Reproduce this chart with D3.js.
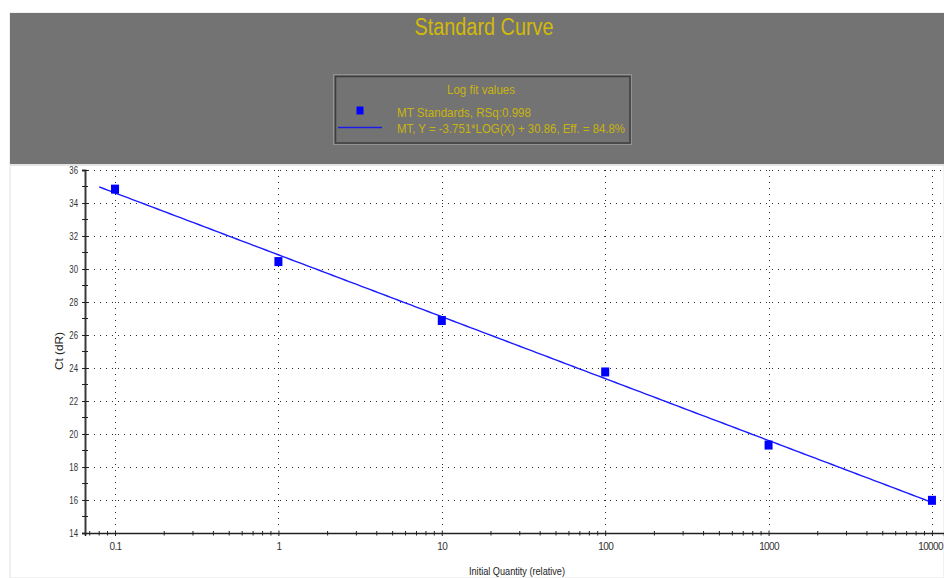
<!DOCTYPE html>
<html>
<head>
<meta charset="utf-8">
<script src="https://cdn.jsdelivr.net/npm/d3@7"></script>
<style>
  html, body { margin: 0; padding: 0; background: #ffffff; }
  svg { display: block; }
  text { font-family: "Liberation Sans", Arial, sans-serif; }
</style>
</head>
<body>
<svg id="chart" width="944" height="578"></svg>
<script>
// Standard curve: Ct against initial quantity (log scale) with its log fit
const quantities = [0.1, 1, 10, 100, 1000, 10000];
const ctValues = [34.84, 30.45, 26.88, 23.76, 19.33, 15.98];
const fitSlope = -3.751;
const fitIntercept = 30.86;
const fitSpan = [0.08, 10000];
const xTickValues = [0.1, 1, 10, 100, 1000, 10000];
const xTickLabels = ["0.1", "1", "10", "100", "1000", "10000"];
const yMajorTicks = [14, 16, 18, 20, 22, 24, 26, 28, 30, 32, 34, 36];
const yMinorTicks = [15, 17, 19, 21, 23, 25, 27, 29, 31, 33, 35];

const titleText = "Standard Curve";
const legendTitle = "Log fit values";
const legendPoints = "MT Standards, RSq:0.998";
const legendLine = "MT, Y = -3.751*LOG(X) + 30.86, Eff. = 84.8%";
const xTitle = "Initial Quantity (relative)";
const yTitle = "Ct (dR)";

const svg = d3.select("#chart");
const W = 944, H = 578;
const plot = { left: 85, right: 944, top: 170, bottom: 533 };

const x = d3.scaleLog().domain([0.0655, 11850]).range([plot.left, plot.right]);
const y = d3.scaleLinear().domain([14, 36]).range([plot.bottom, plot.top]);

// squeeze text horizontally to a narrower face
function condense(sel, factor) {
  sel.each(function () {
    const len = this.getComputedTextLength();
    d3.select(this).attr("textLength", len * factor).attr("lengthAdjust", "spacingAndGlyphs");
  });
}

// panel background
svg.append("rect").attr("x", 10).attr("y", 13).attr("width", W - 10).attr("height", H - 13)
  .attr("fill", "#ffffff").attr("stroke", "#e2e2e2").attr("stroke-width", 1);

// header band
svg.append("rect").attr("x", 10).attr("y", 13).attr("width", W - 10).attr("height", 151)
  .attr("fill", "#737373");
svg.append("line").attr("x1", 10).attr("x2", W).attr("y1", 165).attr("y2", 165)
  .attr("stroke", "#e4e4e4").attr("stroke-width", 2);

svg.append("text").attr("x", 484).attr("y", 35).attr("text-anchor", "middle")
  .attr("font-size", 23).attr("fill", "#d2ba08").text(titleText)
  .attr("textLength", 139).attr("lengthAdjust", "spacingAndGlyphs");

// legend box with bevelled edge
const lg = svg.append("g");
lg.append("rect").attr("x", 333.5).attr("y", 74.5).attr("width", 298).attr("height", 70)
  .attr("fill", "none").attr("stroke", "#939393").attr("stroke-width", 1);
lg.append("rect").attr("x", 335.5).attr("y", 76.5).attr("width", 294.5).attr("height", 66.5)
  .attr("fill", "#737373").attr("stroke", "#3e3e3e").attr("stroke-width", 1.5);
lg.append("text").attr("x", 481).attr("y", 93.5).attr("text-anchor", "middle")
  .attr("font-size", 13).attr("fill", "#c9b30e").text(legendTitle)
  .attr("textLength", 68).attr("lengthAdjust", "spacingAndGlyphs");
lg.append("rect").attr("x", 356.5).attr("y", 106.5).attr("width", 7).attr("height", 8)
  .attr("fill", "#0000ff");
lg.append("line").attr("x1", 338).attr("x2", 382).attr("y1", 127.5).attr("y2", 127.5)
  .attr("stroke", "#1c1ce6").attr("stroke-width", 1.5);
lg.append("text").attr("x", 397).attr("y", 116.5).attr("font-size", 13.5).attr("fill", "#c9b30e")
  .text(legendPoints).attr("textLength", 134).attr("lengthAdjust", "spacingAndGlyphs");
lg.append("text").attr("x", 397).attr("y", 133.3).attr("font-size", 13.5).attr("fill", "#c9b30e")
  .text(legendLine).attr("textLength", 228).attr("lengthAdjust", "spacingAndGlyphs");

// dotted grid
const grid = svg.append("g").attr("stroke", "#2a2a2a").attr("stroke-width", 1)
  .attr("stroke-dasharray", "1,5");
grid.selectAll("line.h").data(yMajorTicks.filter(v => v > 14)).join("line")
  .attr("x1", plot.left + 3).attr("x2", plot.right)
  .attr("y1", d => Math.round(y(d)) + 0.5).attr("y2", d => Math.round(y(d)) + 0.5);
grid.selectAll("line.v").data(xTickValues).join("line")
  .attr("x1", d => Math.round(x(d)) + 0.5).attr("x2", d => Math.round(x(d)) + 0.5)
  .attr("y1", plot.top).attr("y2", plot.bottom - 3);

// fit line
const fitPts = d3.range(0, 201).map(i => {
  const lx = Math.log10(fitSpan[0]) + i / 200 * (Math.log10(fitSpan[1]) - Math.log10(fitSpan[0]));
  const q = Math.pow(10, lx);
  return [q, fitSlope * Math.log10(q) + fitIntercept];
});
svg.append("path").datum(fitPts)
  .attr("d", d3.line().x(d => x(d[0])).y(d => y(d[1])))
  .attr("fill", "none").attr("stroke", "#1a1aff").attr("stroke-width", 1.4);

// standards
svg.selectAll("rect.pt").data(quantities).join("rect").attr("class", "pt")
  .attr("x", d => x(d) - 4).attr("y", (d, i) => y(ctValues[i]) - 4.5)
  .attr("width", 8).attr("height", 9).attr("fill", "#0000ff");

// y axis
const yAxis = d3.axisLeft(y).tickValues(yMajorTicks).tickSize(3).tickPadding(4)
  .tickFormat(d3.format("d"));
const gy = svg.append("g").attr("transform", `translate(${plot.left},0)`).call(yAxis);
gy.select(".domain").attr("stroke", "#3a3a3a").attr("stroke-width", 2);
gy.selectAll(".tick line").attr("stroke", "#222").attr("x2", -3).attr("x1", 3);
gy.selectAll(".tick text").attr("font-size", 10).attr("fill", "#333")
  .attr("font-family", "Liberation Sans, Arial, sans-serif").call(condense, 0.78);
gy.selectAll("line.minor").data(yMinorTicks).join("line").attr("class", "minor")
  .attr("x1", -3).attr("x2", 3).attr("y1", d => y(d)).attr("y2", d => y(d))
  .attr("stroke", "#222");

// x axis
const xMinor = [];
[0.01, 0.1, 1, 10, 100, 1000].forEach(dec => {
  for (let k = 2; k <= 9; k++) {
    const v = dec * k;
    if (v > x.domain()[0] && v < 10000) xMinor.push(v);
  }
});
const xAxis = d3.axisBottom(x).tickValues(xTickValues).tickSize(3).tickPadding(7)
  .tickFormat((d, i) => xTickLabels[i]);
const gx = svg.append("g").attr("transform", `translate(0,${plot.bottom})`).call(xAxis);
gx.select(".domain").attr("stroke", "#222").attr("stroke-width", 1.5);
gx.selectAll(".tick line").attr("stroke", "#222").attr("y1", -2.5).attr("y2", 3);
gx.selectAll(".tick text").attr("font-size", 10).attr("fill", "#333")
  .attr("letter-spacing", -0.6)
  .attr("font-family", "Liberation Sans, Arial, sans-serif");
// the last label sits against the right edge; keep it inside
gx.selectAll(".tick text").filter(d => d === 10000)
  .attr("text-anchor", "end").attr("x", W - 1.5 - x(10000));
gx.selectAll("line.minor").data(xMinor).join("line").attr("class", "minor")
  .attr("x1", d => x(d)).attr("x2", d => x(d)).attr("y1", -2).attr("y2", 2.5)
  .attr("stroke", "#222");

// axis titles
svg.append("text").attr("x", 517).attr("y", 574.5).attr("text-anchor", "middle")
  .attr("font-size", 10.5).attr("fill", "#222").text(xTitle)
  .attr("textLength", 96).attr("lengthAdjust", "spacingAndGlyphs");
svg.append("text").attr("transform", "translate(62.5,351) rotate(-90)")
  .attr("text-anchor", "middle").attr("font-size", 11.5).attr("fill", "#222").text(yTitle)
  .attr("textLength", 38).attr("lengthAdjust", "spacingAndGlyphs");
</script>
</body>
</html>
